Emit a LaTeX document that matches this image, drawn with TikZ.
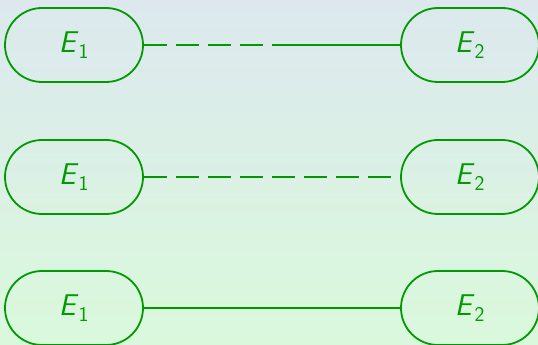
\documentclass[tikz,border=0pt]{standalone}
\usetikzlibrary{shapes.misc}
\definecolor{entgreen}{RGB}{0,153,0}
\definecolor{bgtop}{RGB}{220,232,238}
\definecolor{bgbottom}{RGB}{218,249,220}
\newcommand\ent[1]{\textsf{\textit{E}}\textsubscript{\textsf{#1}}}

\tikzset{
  entity/.style = {rounded rectangle, draw = entgreen, line width = 1.8pt,
    minimum width = 138pt, minimum height = 74pt, inner sep = 0pt,
    text = entgreen, font = \fontsize{30}{36}\selectfont},
  link/.style = {draw = entgreen, line width = 1.8pt},
  partial/.style = {link, dash pattern = on 23pt off 9pt}
}

\begin{document}
\begin{tikzpicture}[x = 1pt, y = 1pt]
  \shade[top color = bgtop, bottom color = bgbottom]
    (0, 0) rectangle (538, 345);
  \useasboundingbox (0, 0) rectangle (538, 345);

  % top row
  \node[entity] (e1a) at (74, 300) {\ent{1}};
  \node[entity] (e2a) at (470, 300) {\ent{2}};
  \coordinate (ka) at (272, 300);
  \draw[partial] (e1a.east) -- (ka);
  \draw[link] (ka) -- (e2a.west);

  % middle row
  \node[entity] (e1b) at (74, 168) {\ent{1}};
  \node[entity] (e2b) at (470, 168) {\ent{2}};
  \draw[partial] (e1b.east) -- (e2b.west);

  % bottom row
  \node[entity] (e1c) at (74, 37) {\ent{1}};
  \node[entity] (e2c) at (470, 37) {\ent{2}};
  \draw[link] (e1c.east) -- (e2c.west);
\end{tikzpicture}
\end{document}
